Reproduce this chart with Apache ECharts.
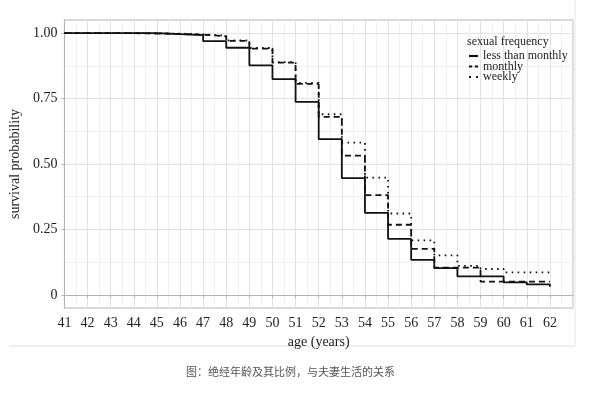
<!DOCTYPE html>
<html>
<head>
<meta charset="utf-8">
<script src="https://cdn.jsdelivr.net/npm/echarts@6/dist/echarts.min.js"></script>
<style>html,body{margin:0;padding:0;background:#fff;}#c{width:600px;height:393px;}</style>
</head>
<body>
<div id="c"></div>
<script>
const ages = [41,42,43,44,45,46,47,48,49,50,51,52,53,54,55,56,57,58,59,60,61,62];
const lessThanMonthly = [1,1,1,1,0.996,0.992,0.969,0.944,0.877,0.824,0.737,0.595,0.446,0.313,0.214,0.134,0.102,0.071,0.071,0.048,0.040,0.031];
const monthly = [1,1,1,0.998,0.997,0.994,0.988,0.970,0.941,0.887,0.806,0.680,0.532,0.381,0.268,0.176,0.104,0.104,0.051,0.051,0.051,0.051];
const weekly = [1,1,1,0.999,0.998,0.995,0.990,0.972,0.943,0.889,0.810,0.690,0.582,0.448,0.311,0.208,0.151,0.111,0.099,0.086,0.086,0.086];
const seriesNames = ['less than monthly','monthly','weekly'];
const yMajorTicks = [0,0.25,0.5,0.75,1];
const yMajorLabels = ['0','0.25','0.50','0.75','1.00'];
const yMinorTicks = [0.125,0.375,0.625,0.875];

const serif = 'Liberation Serif';
const chart = echarts.init(document.getElementById('c'), null, {renderer:'canvas'});
const pairs = arr => ages.map((a,i)=>[a, arr[i]]);
const mk = (name, arr, type, w) => ({
  name, type:'line', step:'end', data: pairs(arr), symbol:'none', xAxisIndex:0, yAxisIndex:0,
  lineStyle:{color:'#111', width:w, type}, itemStyle:{color:'#111'}, animation:false
});
const legendIcons = [
  'path://M0,0h10v2.4h-10z',
  'path://M0,0h3.6v2.4h-3.6z M6.4,0h3.6v2.4h-3.6z',
  'path://M0,0h2.2v2.2h-2.2z M7.8,0h2.2v2.2h-2.2z'
];
chart.setOption({
  animation:false,
  title:[
    {text:'sexual frequency', left:467, top:36, padding:0, textStyle:{fontFamily:serif, fontSize:12, fontWeight:'normal', color:'#222'}},
    {text:'图：绝经年龄及其比例，与夫妻生活的关系', left:186, top:366, padding:0, textStyle:{fontFamily:'Noto Sans CJK SC', fontSize:11, fontWeight:'normal', color:'#555'}}
  ],
  legend:{
    data: seriesNames.map((n,i)=>({name:n, icon:legendIcons[i]})),
    orient:'vertical', left:469, top:50, padding:0, itemWidth:9, itemHeight:2.4, itemGap:-1.5,
    textStyle:{fontFamily:serif, fontSize:12, color:'#222', padding:[0,0,0,0]}
  },
  grid:{left:64, right:27, top:20, bottom:85, show:true, borderColor:'#b3b3b3', borderWidth:1, containLabel:false},
  xAxis:{
    type:'value', min:41, max:63, interval:1,
    name:'age (years)', nameLocation:'middle', nameGap:19,
    nameTextStyle:{fontFamily:serif, fontSize:14, color:'#222'},
    axisLine:{show:true, lineStyle:{color:'#b3b3b3'}},
    axisTick:{show:true, length:3, lineStyle:{color:'#b3b3b3'}},
    axisLabel:{fontFamily:serif, fontSize:14, color:'#222', margin:8, showMaxLabel:false,
      formatter: v => (v <= 62 ? String(v) : '')},
    splitLine:{show:true, lineStyle:{color:'#e2e2e2', width:1}},
    minorTick:{show:false, splitNumber:2},
    minorSplitLine:{show:true, lineStyle:{color:'#f0f0f0', width:1}}
  },
  yAxis:[
    {
      type:'value', min:-0.05, max:1.05,
      name:'survival probability', nameLocation:'middle', nameGap:40, nameRotate:90,
      nameTextStyle:{fontFamily:serif, fontSize:14, color:'#222'},
      axisLine:{show:true, lineStyle:{color:'#b3b3b3'}},
      axisTick:{show:true, length:3, lineStyle:{color:'#b3b3b3'}, customValues:yMajorTicks},
      axisLabel:{fontFamily:serif, fontSize:14, color:'#222', margin:7, customValues:yMajorTicks,
        formatter: v => { const i = yMajorTicks.findIndex(t => Math.abs(t - v) < 1e-6); return i >= 0 ? yMajorLabels[i] : ''; }},
      splitLine:{show:true, lineStyle:{color:'#e2e2e2', width:1}}
    },
    {
      type:'value', min:-0.05, max:1.05, position:'left',
      axisLine:{show:false}, axisLabel:{show:false},
      axisTick:{show:false, customValues:yMinorTicks},
      splitLine:{show:true, lineStyle:{color:'#f0f0f0', width:1}}
    }
  ],
  graphic:[
    {type:'line', shape:{x1:10, y1:346, x2:575, y2:346}, style:{stroke:'#eeeeee', lineWidth:2}, silent:true},
    {type:'line', shape:{x1:575, y1:0, x2:575, y2:346}, style:{stroke:'#f2f2f2', lineWidth:2}, silent:true}
  ],
  series:[
    mk(seriesNames[0], lessThanMonthly, 'solid', 1.8),
    mk(seriesNames[1], monthly, [6,4], 1.8),
    mk(seriesNames[2], weekly, [1.6,4.4], 1.8)
  ]
});
</script>
</body>
</html>
